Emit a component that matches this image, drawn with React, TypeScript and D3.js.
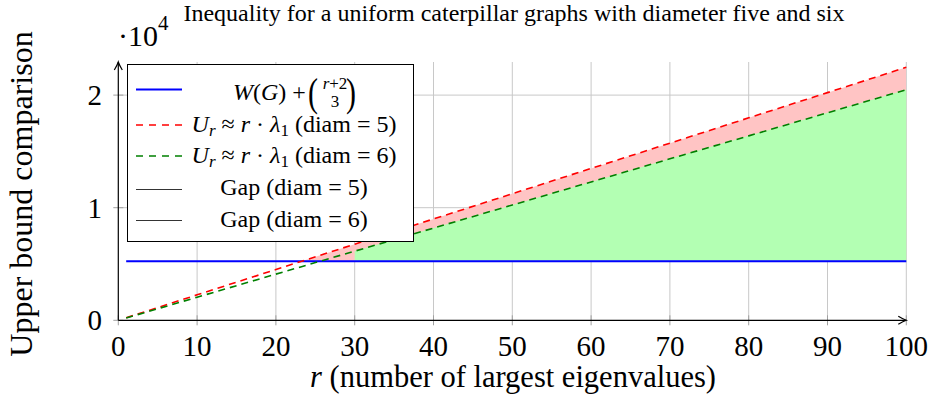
import React from "react";
import * as d3 from "d3";

const rValues = [1, 10, 20, 30, 40, 50, 60, 70, 80, 90, 100];
const redValues = [225, 2260, 4510, 6760, 9000, 11240, 13490, 15730, 17980, 20220, 22470];
const greenValues = [205, 2050, 4100, 6140, 8190, 10240, 12290, 14340, 16380, 18430, 20480];
const blueValues = [5250, 5250, 5250, 5250, 5250, 5250, 5250, 5250, 5250, 5250, 5250];
const greenFillStart = 30;

const xTicks = [0, 10, 20, 30, 40, 50, 60, 70, 80, 90, 100];
const yTicks = [0, 10000, 20000];
const yTickLabels = ["0", "1", "2"];

const W = 931;
const H = 396;
const FONT = "Liberation Serif";
const fs = { fontFamily: FONT };

export default function App() {
  const x = d3.scaleLinear().domain([0, 100]).range([118.3, 906.3]);
  const y = d3.scaleLinear().domain([0, 22940]).range([320.3, 62]);
  const [x0, x1] = x.range();
  const [y0, y1] = y.range();

  const pts = rValues.map((r, i) => ({ r, red: redValues[i], green: greenValues[i], blue: blueValues[i] }));

  const line = (key: "red" | "green" | "blue") =>
    d3.line<any>().x((d) => x(d.r)).y((d) => y(d[key]))(pts) || "";

  const pinkArea =
    d3.area<any>().x((d) => x(d.r)).y0((d) => y(d.blue)).y1((d) => y(d.red))(pts) || "";
  const greenArea =
    d3
      .area<any>()
      .x((d) => x(d.r))
      .y0((d) => y(d.blue))
      .y1((d) => y(d.green))(pts.filter((d) => d.r >= greenFillStart)) || "";
  const aboveBlue =
    d3.area<any>().x((d) => x(d.r)).y0(() => 0).y1((d) => y(d.blue))(pts) || "";

  const legendX = 127.5;
  const legendY = 64.5;
  const legendW = 286;
  const legendH = 177;
  const sampleX0 = 136;
  const sampleX1 = 182;
  const textCx = 294;
  const lf = 24;

  return (
    <svg
      width={W}
      height={H}
      style={{ position: "absolute", left: 0, top: 0, background: "#fff", fontFamily: FONT }}
    >
      <defs>
        <clipPath id="aboveBlue">
          <path d={aboveBlue} />
        </clipPath>
      </defs>
      <rect x={0} y={0} width={W} height={H} fill="#fff" />

      {/* grid */}
      {xTicks.filter((t) => t > 0).map((t) => (
        <line key={"gx" + t} x1={x(t)} x2={x(t)} y1={y1} y2={y0} stroke="#c8c8c8" strokeWidth={1} />
      ))}
      {yTicks.filter((t) => t > 0).map((t) => (
        <line key={"gy" + t} x1={x0} x2={x1} y1={y(t)} y2={y(t)} stroke="#c8c8c8" strokeWidth={1} />
      ))}
      {/* tick marks */}
      {xTicks.map((t) => (
        <line key={"tx" + t} x1={x(t)} x2={x(t)} y1={y0 - 5} y2={y0 + 5} stroke="#a0a0a0" strokeWidth={1} />
      ))}
      {yTicks.map((t) => (
        <line key={"ty" + t} x1={x0 - 5} x2={x0 + 5} y1={y(t)} y2={y(t)} stroke="#a0a0a0" strokeWidth={1} />
      ))}

      {/* fills */}
      <path d={pinkArea} fill="#ffc4c4" clipPath="url(#aboveBlue)" />
      <path d={greenArea} fill="#b3ffb3" />

      {/* lines */}
      <path d={line("blue")} fill="none" stroke="#0000ff" strokeWidth={2} />
      <path d={line("red")} fill="none" stroke="#ff0000" strokeWidth={1.6} strokeDasharray="7 5" />
      <path d={line("green")} fill="none" stroke="#008000" strokeWidth={1.6} strokeDasharray="7 5" />

      {/* axes */}
      <line x1={x0} x2={x1} y1={y0} y2={y0} stroke="#000" strokeWidth={1.2} />
      <path d={`M${x1 - 8},${y0 - 4} Q${x1 - 3},${y0 - 1} ${x1},${y0} Q${x1 - 3},${y0 + 1} ${x1 - 8},${y0 + 4}`} fill="none" stroke="#000" strokeWidth={1.2} />
      <line x1={x0} x2={x0} y1={y0} y2={y1} stroke="#000" strokeWidth={1.2} />
      <path d={`M${x0 - 4},${y1 + 8} Q${x0 - 1},${y1 + 3} ${x0},${y1} Q${x0 + 1},${y1 + 3} ${x0 + 4},${y1 + 8}`} fill="none" stroke="#000" strokeWidth={1.2} />

      {/* tick labels */}
      {xTicks.map((t) => (
        <text key={"lx" + t} x={x(t)} y={356} fontSize={29} textAnchor="middle" fill="#000" style={fs}>
          {t}
        </text>
      ))}
      {yTicks.map((t, i) => (
        <text key={"ly" + t} x={102} y={y(t) + 10} fontSize={29} textAnchor="end" fill="#000" style={fs}>
          {yTickLabels[i]}
        </text>
      ))}
      <text x={118} y={46} fontSize={30} fill="#000" style={fs}>
        ·10
        <tspan fontSize={21} dy={-16}>4</tspan>
      </text>

      {/* title */}
      <text x={514} y={21} fontSize={24} textAnchor="middle" fill="#000" style={fs}>
        Inequality for a uniform caterpillar graphs with diameter five and six
      </text>

      {/* axis labels */}
      <text x={513} y={387} fontSize={30.5} textAnchor="middle" fill="#000" style={fs}>
        <tspan fontStyle="italic">r</tspan> (number of largest eigenvalues)
      </text>
      <text transform={`translate(32,194) rotate(-90)`} fontSize={32} textAnchor="middle" fill="#000" style={fs}>
        Upper bound comparison
      </text>

      {/* legend */}
      <rect x={legendX} y={legendY} width={legendW} height={legendH} fill="#fff" stroke="#000" strokeWidth={1} />
      <line x1={sampleX0} x2={sampleX1} y1={89.5} y2={89.5} stroke="#0000ff" strokeWidth={2} />
      <line x1={sampleX0} x2={sampleX1} y1={125} y2={125} stroke="#ff0000" strokeWidth={1.6} strokeDasharray="7 6" />
      <line x1={sampleX0} x2={sampleX1} y1={156} y2={156} stroke="#008000" strokeWidth={1.6} strokeDasharray="7 6" />
      <line x1={sampleX0} x2={sampleX1} y1={189.5} y2={189.5} stroke="#000" strokeWidth={0.8} />
      <line x1={sampleX0} x2={sampleX1} y1={220.5} y2={220.5} stroke="#000" strokeWidth={0.8} />

      {/* W(G) + binom */}
      <text x={233} y={100} fontSize={lf} fill="#000" style={fs}>
        <tspan fontStyle="italic">W</tspan>(<tspan fontStyle="italic">G</tspan>) +
      </text>
      <text x={308} y={106} fontSize={40} fill="#000" style={fs} transform="translate(308,0) scale(0.75,1) translate(-308,0)">
        (
      </text>
      <text x={335} y={89} fontSize={17} textAnchor="middle" fill="#000" style={fs}>
        <tspan fontStyle="italic">r</tspan>+2
      </text>
      <text x={335} y={107} fontSize={17} textAnchor="middle" fill="#000" style={fs}>
        3
      </text>
      <text x={346} y={106} fontSize={40} fill="#000" style={fs} transform="translate(346,0) scale(0.75,1) translate(-346,0)">
        )
      </text>

      {[
        { y: 132, d: "5" },
        { y: 163, d: "6" },
      ].map((e) => (
        <text key={e.d} x={textCx} y={e.y} fontSize={lf} textAnchor="middle" fill="#000" style={fs}>
          <tspan fontStyle="italic">U</tspan>
          <tspan fontStyle="italic" fontSize={17} dy={4}>r</tspan>
          <tspan dy={-4}> ≈ </tspan>
          <tspan fontStyle="italic">r</tspan>
          <tspan> · </tspan>
          <tspan fontStyle="italic">λ</tspan>
          <tspan fontSize={17} dy={4}>1</tspan>
          <tspan dy={-4}> (diam = {e.d})</tspan>
        </text>
      ))}
      <text x={textCx} y={195} fontSize={lf} textAnchor="middle" fill="#000" style={fs}>
        Gap (diam = 5)
      </text>
      <text x={textCx} y={227} fontSize={lf} textAnchor="middle" fill="#000" style={fs}>
        Gap (diam = 6)
      </text>
    </svg>
  );
}
